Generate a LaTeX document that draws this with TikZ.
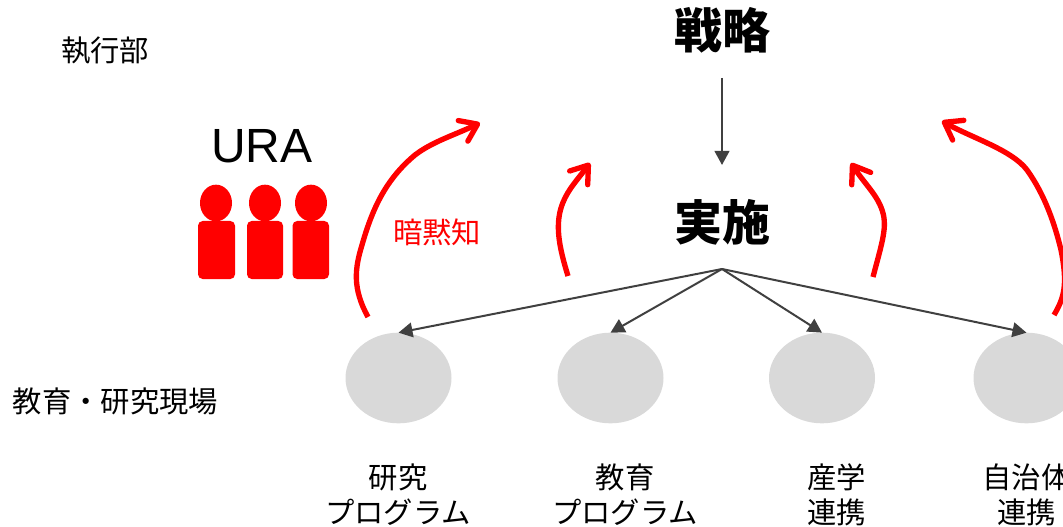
\documentclass[tikz,border=0pt]{standalone}
\usepackage{fontspec}
\setmainfont{Noto Sans CJK JP}
\newfontfamily\latinfont{Liberation Sans}
\usetikzlibrary{arrows.meta,shapes.geometric}
\definecolor{darkline}{HTML}{404040}
\definecolor{blobgray}{HTML}{D9D9D9}
\definecolor{urared}{HTML}{FF0000}
\tikzset{
  x=0.75pt,y=-0.75pt,
  txt/.style={inner sep=0pt,outer sep=0pt,align=center,font=\fontsize{22}{26.2}\selectfont,text=black},
  title/.style={inner sep=0pt,outer sep=0pt,font=\fontsize{36}{40}\selectfont\bfseries,text=black},
  blob/.style={ellipse,fill=blobgray,minimum width=79.5pt,minimum height=68pt,inner sep=0pt,outer sep=0pt},
  flow/.style={draw=darkline,line width=1.5pt,-{Triangle[length=10.5pt,width=11pt]},shorten >=0pt},
  tacit/.style={draw=urared,line width=4pt,-{Straight Barb[length=12pt,width=17pt,round,line width=4pt]}},
  head/.style={ellipse,fill=urared,minimum width=24pt,minimum height=27.5pt,inner sep=0pt,outer sep=0pt},
  torso/.style={fill=urared,rounded corners=3.5pt,inner sep=0pt,outer sep=0pt}
}
\begin{document}
\begin{tikzpicture}
\useasboundingbox (0,0) rectangle (1063,527);
\clip (0,0) rectangle (1063,527);
\node[txt] (exec) at (105,51) {執行部};
\node[txt] (field) at (115.5,401) {教育・研究現場};
\node[title] (strategy) at (722,30) {戦略};
\node[title] (impl) at (722,222) {実施};
\node[inner sep=0pt,font=\latinfont\fontsize{36}{40}\selectfont] (ura) at (262,146) {URA};
\node[txt,text=urared] (tacitlabel) at (437,232) {暗黙知};

\node[head] (h1) at (216,203) {};
\node[head] (h2) at (265,203) {};
\node[head] (h3) at (311,203) {};
\fill[torso] (198,221) rectangle (235,279);
\fill[torso] (247,221) rectangle (283,279);
\fill[torso] (292.5,221) rectangle (329,279);

\node[blob] (e1) at (398.5,378) {};
\node[blob] (e2) at (610.5,378) {};
\node[blob] (e3) at (822,378) {};
\node[blob] (e4) at (1026.5,378) {};

\node[txt] (l1) at (398,494.5) {研究\\プログラム};
\node[txt] (l2) at (625,494.5) {教育\\プログラム};
\node[txt] (l3) at (836.5,494.5) {産学\\連携};
\node[txt] (l4) at (1026.5,494.5) {自治体\\連携};

\coordinate (hub) at (722,269);
\coordinate (stratbottom) at (722,78);
\coordinate (implarrow) at (722,165);
\draw[flow] (stratbottom) -- (implarrow);
\draw[flow] (hub) -- (e1.north);
\draw[flow] (hub) -- (e2.north);
\draw[flow] (hub) -- (e3.north);
\draw[flow] (hub) -- (e4.north);

\coordinate (a0) at (368,317);
\coordinate (a1) at (480,123);
\draw[tacit] (a0) .. controls (352,288) and (355,268) .. (362,245)
  .. controls (372,210) and (385,180) .. (415,155) .. controls (432,142) and (452,136) .. (a1);
\coordinate (b0) at (568,276);
\coordinate (b1) at (590,163);
\draw[tacit] (b0) .. controls (560,250) and (555,228) .. (561,208) .. controls (566,192) and (574,184) .. (b1);
\coordinate (c0) at (873,277);
\coordinate (c1) at (851,163);
\draw[tacit] (c0) .. controls (880,250) and (886,232) .. (884,218) .. controls (881,198) and (866,186) .. (c1);
\coordinate (d0) at (1054,315);
\coordinate (d1) at (942,121);
\draw[tacit] (d0) .. controls (1064,298) and (1068,285) .. (1061,250)
  .. controls (1055,225) and (1045,195) .. (1027,170) .. controls (1012,150) and (972,138) .. (d1);
\end{tikzpicture}
\end{document}
